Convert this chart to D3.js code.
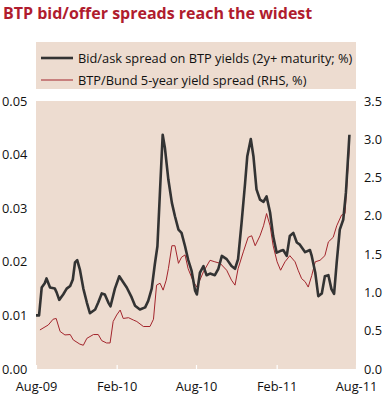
<!DOCTYPE html>
<html>
<head>
<meta charset="utf-8">
<script src="https://cdn.jsdelivr.net/npm/d3@7"></script>
<style>
  body { margin: 0; background: #fff; }
  svg { display: block; }
</style>
</head>
<body>
<script>
// bid/ask spread on BTP yields (left axis)
const bidAskDates = [
  '2009-08-01','2009-08-08','2009-08-14','2009-08-21','2009-08-25','2009-09-02','2009-09-13','2009-09-17',
  '2009-09-23','2009-10-02','2009-10-10','2009-10-18','2009-10-24','2009-10-29','2009-11-03','2009-11-09',
  '2009-11-17','2009-11-25','2009-12-02','2009-12-14','2009-12-21','2009-12-29','2010-01-05','2010-01-13',
  '2010-01-18','2010-01-28','2010-02-07','2010-02-16','2010-02-24','2010-03-07','2010-03-15','2010-03-26',
  '2010-04-07','2010-04-14','2010-04-22','2010-04-29','2010-05-05','2010-05-11','2010-05-17','2010-05-22',
  '2010-05-30','2010-06-07','2010-06-14','2010-06-22','2010-06-29','2010-07-07','2010-07-14','2010-07-22',
  '2010-07-30','2010-08-03','2010-08-10','2010-08-18','2010-08-25','2010-09-02','2010-09-13','2010-09-21',
  '2010-09-29','2010-10-10','2010-10-21','2010-10-29','2010-11-05','2010-11-13','2010-11-21','2010-11-26',
  '2010-12-04','2010-12-10','2010-12-17','2010-12-25','2011-01-02','2011-01-09','2011-01-17','2011-01-24',
  '2011-02-01','2011-02-09','2011-02-16','2011-02-24','2011-03-03','2011-03-11','2011-03-19','2011-03-26',
  '2011-04-07','2011-04-18','2011-04-22','2011-04-30','2011-05-07','2011-05-15','2011-05-22','2011-05-30',
  '2011-06-06','2011-06-12','2011-06-18','2011-06-25','2011-07-03','2011-07-09','2011-07-17'
]
const bidAskValues = [
  0.0100, 0.0100, 0.0152, 0.0160, 0.0169, 0.0152, 0.0150, 0.0143,
  0.0129, 0.0139, 0.0150, 0.0155, 0.0167, 0.0199, 0.0203, 0.0186,
  0.0150, 0.0124, 0.0104, 0.0111, 0.0124, 0.0141, 0.0139, 0.0124,
  0.0117, 0.0150, 0.0173, 0.0162, 0.0152, 0.0134, 0.0118, 0.0111,
  0.0115, 0.0127, 0.0150, 0.0195, 0.0229, 0.0334, 0.0437, 0.0413,
  0.0353, 0.0310, 0.0285, 0.0260, 0.0254, 0.0229, 0.0204, 0.0183,
  0.0146, 0.0139, 0.0180, 0.0192, 0.0175, 0.0178, 0.0175, 0.0187,
  0.0211, 0.0205, 0.0192, 0.0187, 0.0205, 0.0273, 0.0347, 0.0397,
  0.0429, 0.0397, 0.0335, 0.0316, 0.0312, 0.0322, 0.0292, 0.0248,
  0.0217, 0.0220, 0.0222, 0.0211, 0.0248, 0.0254, 0.0236, 0.0232,
  0.0218, 0.0222, 0.0211, 0.0180, 0.0136, 0.0141, 0.0173, 0.0175,
  0.0149, 0.0140, 0.0199, 0.0260, 0.0279, 0.0329, 0.0437
]

// BTP/Bund 5-year yield spread (right axis)
const bundDates = [
  '2009-08-10','2009-08-29','2009-09-09','2009-09-16','2009-09-25','2009-10-06','2009-10-18','2009-10-25',
  '2009-11-09','2009-11-17','2009-11-25','2009-12-10','2009-12-21','2009-12-29','2010-01-09','2010-01-17',
  '2010-01-24','2010-02-01','2010-02-09','2010-02-16','2010-02-28','2010-03-11','2010-03-19','2010-04-03',
  '2010-04-18','2010-04-26','2010-05-03','2010-05-11','2010-05-18','2010-05-25','2010-05-30','2010-06-07',
  '2010-06-14','2010-06-22','2010-06-29','2010-07-07','2010-07-14','2010-07-26','2010-08-03','2010-08-18',
  '2010-09-02','2010-09-13','2010-09-25','2010-10-10','2010-10-21','2010-10-29','2010-11-05','2010-11-17',
  '2010-11-28','2010-12-06','2010-12-14','2010-12-25','2011-01-02','2011-01-09','2011-01-17','2011-01-24',
  '2011-02-02','2011-02-10','2011-02-20','2011-03-03','2011-03-15','2011-03-22','2011-03-30','2011-04-07',
  '2011-04-14','2011-04-22','2011-04-30','2011-05-11','2011-05-22','2011-05-30','2011-06-10','2011-06-18',
  '2011-06-29','2011-07-07','2011-07-12','2011-07-17'
]
const bundValues = [
  0.51, 0.575, 0.65, 0.66, 0.49, 0.445, 0.45, 0.38,
  0.325, 0.31, 0.40, 0.45, 0.45, 0.37, 0.34, 0.34,
  0.62, 0.705, 0.77, 0.66, 0.67, 0.64, 0.62, 0.555,
  0.555, 0.65, 1.095, 1.12, 1.03, 1.16, 1.31, 1.61,
  1.61, 1.38, 1.46, 1.49, 1.31, 1.14, 1.07, 1.27,
  1.42, 1.40, 1.38, 1.29, 1.16, 1.095, 1.31, 1.53,
  1.72, 1.74, 1.61, 1.74, 1.87, 2.03, 1.87, 1.61,
  1.40, 1.29, 1.40, 1.48, 1.40, 1.29, 1.18, 1.14,
  1.07, 1.22, 1.40, 1.42, 1.48, 1.66, 1.72, 1.87,
  2.01, 2.03, 2.48, 2.91
]

const xTickDates = ['2009-08-01','2010-02-01','2010-08-01','2011-02-01','2011-08-01']
const xTickLabels = ['Aug-09','Feb-10','Aug-10','Feb-11','Aug-11']
const leftTicks = [0, 0.01, 0.02, 0.03, 0.04, 0.05]
const rightTicks = [0, 0.5, 1.0, 1.5, 2.0, 2.5, 3.0, 3.5]
const legendLabels = [
  'Bid/ask spread on BTP yields (2y+ maturity; %)',
  'BTP/Bund 5-year yield spread (RHS, %)'
]

const parse = d3.timeParse('%Y-%m-%d')
const W = 386, H = 401
const plot = {left: 36, right: 356, top: 101, bottom: 369}
const bg = '#eddcd0'
const font = '"Open Sans", "DejaVu Sans", sans-serif'

const svg = d3.select('body').append('svg').attr('width', W).attr('height', H)

// title
svg.append('text')
  .attr('x', 3).attr('y', 19)
  .attr('fill', '#b01c2e')
  .attr('font-family', font)
  .attr('font-weight', 'bold')
  .attr('font-size', 16)
  .text('BTP bid/offer spreads reach the widest')

// legend
svg.append('rect')
  .attr('x', plot.left).attr('y', 42)
  .attr('width', plot.right - plot.left).attr('height', 47)
  .attr('fill', bg)

const legend = svg.selectAll('.legend')
  .data(legendLabels)
  .enter().append('g')
  .attr('transform', (d, i) => 'translate(41,' + (58 + i * 22) + ')')

legend.append('line')
  .attr('x1', 0).attr('x2', 32)
  .attr('stroke', (d, i) => i === 0 ? '#333' : '#a3252c')
  .attr('stroke-width', (d, i) => i === 0 ? 2.6 : 1)

legend.append('text')
  .attr('x', 37).attr('y', 4.5)
  .attr('font-family', font)
  .attr('font-size', 12.8)
  .attr('fill', '#111')
  .text(d => d)

// plot area
svg.append('rect')
  .attr('x', plot.left).attr('y', plot.top)
  .attr('width', plot.right - plot.left).attr('height', plot.bottom - plot.top)
  .attr('fill', bg)

const x = d3.scaleTime()
  .domain([parse('2009-08-01'), parse('2011-08-01')])
  .range([plot.left, plot.right])
const yL = d3.scaleLinear().domain([0, 0.05]).range([plot.bottom, plot.top])
const yR = d3.scaleLinear().domain([0, 3.5]).range([plot.bottom, plot.top])

// x axis: white tick marks inside the plot, labels below
const xAxis = svg.append('g')
  .attr('transform', 'translate(0,' + plot.bottom + ')')
  .call(d3.axisBottom(x)
    .tickValues(xTickDates.map(parse))
    .tickFormat((d, i) => xTickLabels[i])
    .tickSizeInner(-4).tickSizeOuter(0).tickPadding(13))
xAxis.select('.domain').remove()
xAxis.selectAll('line').attr('stroke', '#fff').attr('stroke-width', 1.2)
xAxis.selectAll('text')
  .attr('font-family', font).attr('font-size', 12.8).attr('fill', '#111')

const yAxisL = svg.append('g')
  .attr('transform', 'translate(' + plot.left + ',0)')
  .call(d3.axisLeft(yL).tickValues(leftTicks).tickFormat(d3.format('.2f'))
    .tickSize(0).tickPadding(6))
yAxisL.select('.domain').remove()
yAxisL.selectAll('text')
  .attr('font-family', font).attr('font-size', 12.8).attr('fill', '#111')
  .attr('text-anchor', 'start').attr('x', -plot.left + 2)

const yAxisR = svg.append('g')
  .attr('transform', 'translate(' + plot.right + ',0)')
  .call(d3.axisRight(yR).tickValues(rightTicks).tickFormat(d3.format('.1f'))
    .tickSize(0).tickPadding(8))
yAxisR.select('.domain').remove()
yAxisR.selectAll('text')
  .attr('font-family', font).attr('font-size', 12.8).attr('fill', '#111')

// series
const bundLine = d3.line().x(d => x(d[0])).y(d => yR(d[1]))
const bidLine = d3.line().x(d => x(d[0])).y(d => yL(d[1]))

svg.append('path')
  .datum(d3.zip(bundDates.map(parse), bundValues))
  .attr('d', bundLine)
  .attr('fill', 'none')
  .attr('stroke', '#a3252c')
  .attr('stroke-width', 1)

svg.append('path')
  .datum(d3.zip(bidAskDates.map(parse), bidAskValues))
  .attr('d', bidLine)
  .attr('fill', 'none')
  .attr('stroke', '#333')
  .attr('stroke-width', 2.6)
  .attr('stroke-linejoin', 'round')
</script>
</body>
</html>
